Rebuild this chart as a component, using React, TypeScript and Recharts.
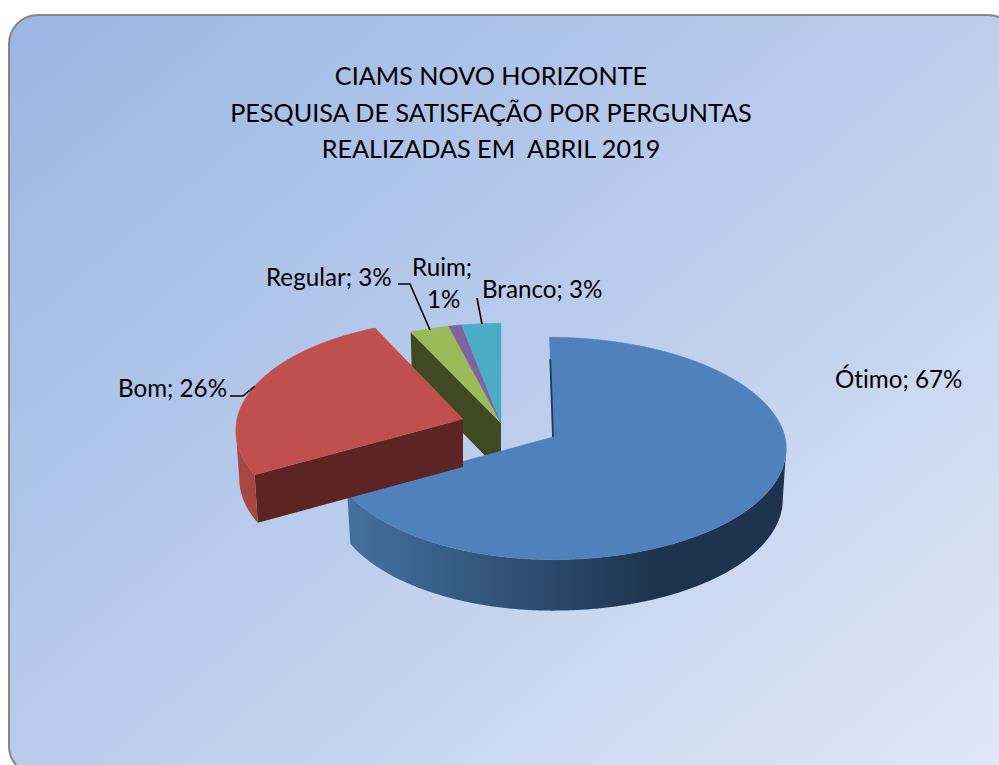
import React from "react";
import { PieChart, Pie, Cell } from "recharts";

const titleLines = ["CIAMS NOVO HORIZONTE", "PESQUISA DE SATISFAÇÃO POR PERGUNTAS", "REALIZADAS EM \u00A0ABRIL 2019"];
// Drawn in this order so that nearer slices cover farther ones; the pie starts at the "Regular" slice.
const categories = ["Regular", "Ruim", "Branco", "Ótimo", "Bom"];
const percents = [3, 1, 3, 67, 26];
const colors = ["#9BBB59", "#8064A2", "#4BACC6", "#4F81BD", "#C0504D"];
const rows = categories.map((name, i) => ({ name, value: percents[i] }));

const W = 999, H = 765;
const CX = 553, CY = 437, R = 232, TILT = 110 / 232, K = 0.103, NARROW = 0.985;
const START = 90 - (360 * (67 + 26)) / 100;

type Look = { dx: number; dy: number; left: number; depth: number; lean?: number; edge?: string; wall?: [string, string, string]; face?: string };
const looks: Record<string, Look> = {
  Regular: { dx: -52, dy: -14, left: 1, depth: 49, face: "#404A22" },
  Ruim: { dx: -52, dy: -14, left: 1, depth: 49 },
  Branco: { dx: -52, dy: -14, left: 1, depth: 49 },
  "Ótimo": { dx: 0, dy: 0, left: 0.962, depth: 51, lean: 3.5, edge: "#1F3A58", wall: ["#44719F", "#1E344E", "#1E344E"] },
  Bom: { dx: -90, dy: -18, left: 0.974, depth: 48, wall: ["#A84743", "#9E413E", "#8A3734"], face: "#5C2523" },
};
const labels: Record<string, { lines: string[]; x: number[]; y: number[]; lead?: number[][] }> = {
  "Ótimo": { lines: ["Ótimo; 67%"], x: [835], y: [388] },
  Bom: { lines: ["Bom; 26%"], x: [118], y: [397], lead: [[230, 396], [243, 396], [255, 386]] },
  Regular: { lines: ["Regular; 3%"], x: [266], y: [286], lead: [[398, 284], [410, 284], [430, 330]] },
  Ruim: { lines: ["Ruim;", "1%"], x: [412, 427], y: [276, 308] },
  Branco: { lines: ["Branco; 3%"], x: [482], y: [298], lead: [[477, 298], [482, 324]] },
};

const FONT = "Lato, 'Open Sans', sans-serif";
const NOLIG: React.CSSProperties = { fontVariantLigatures: "none" };

function project(cx: number, cy: number, r: number, theta: number, look: Look) {
  const a = (theta * Math.PI) / 180;
  const s = Math.sin(a), c = Math.cos(a);
  const f = 1 / (1 + K * c);
  return [cx + r * s * f * (s < 0 ? look.left : 1) - (look.lean ?? 0) * Math.max(c, 0), cy - r * TILT * c * f];
}
const poly = (pts: number[][]) => "M" + pts.map((p) => `${p[0].toFixed(2)} ${p[1].toFixed(2)}`).join("L") + "Z";

function Slice(props: any) {
  const { cx, cy, outerRadius, startAngle, endAngle, fill, name, payload } = props;
  const key = name ?? payload?.name;
  const look = looks[key];
  const ox = cx + look.dx, oy = cy + look.dy;
  const t0 = 90 - startAngle, t1 = 90 - endAngle;
  const arc: number[][] = [];
  const n = Math.max(6, Math.ceil(Math.abs(t1 - t0) * 2));
  for (let i = 0; i <= n; i++) arc.push(project(ox, oy, outerRadius, t0 + ((t1 - t0) * i) / n, look));
  const apex = [ox, oy];
  const down = (p: number[]) => [ox + (p[0] - ox) * NARROW, p[1] + look.depth];
  const id = `wall-${categories.indexOf(key)}`;
  const xs = arc.map((p) => p[0]);
  // Only the part of the rim that faces the viewer gets a wall: there x falls as the angle grows.
  const front = arc.filter((p, i) => (i > 0 && arc[i - 1][0] > p[0]) || (i < n && arc[i + 1][0] < p[0]));
  return (
    <g>
      {look.face && <path d={poly([apex, arc[0], down(arc[0]), down(apex)])} fill={look.face} />}
      {look.wall && (
        <>
          <defs>
            <linearGradient id={id} gradientUnits="userSpaceOnUse" x1={Math.min(...xs)} x2={Math.max(...xs)} y1={0} y2={0}>
              <stop offset="0" stopColor={look.wall[0]} />
              <stop offset="0.7" stopColor={look.wall[1]} />
              <stop offset="1" stopColor={look.wall[2]} />
            </linearGradient>
          </defs>
          <path d={poly([...front, ...front.map(down).reverse()])} fill={`url(#${id})`} />
        </>
      )}
      <path d={poly([apex, ...arc])} fill={fill} stroke={fill} strokeWidth={0.5} />
      {look.edge && (
        <line
          x1={apex[0]}
          y1={apex[1]}
          x2={apex[0] + (arc[0][0] - apex[0]) * 0.78}
          y2={apex[1] + (arc[0][1] - apex[1]) * 0.78}
          stroke={look.edge}
          strokeWidth={1.8}
        />
      )}
    </g>
  );
}

function SliceLabel(props: any) {
  const key = props.name ?? props.payload?.name;
  const l = labels[key];
  return (
    <g>
      {l.lead && <polyline points={l.lead.map((p) => p.join(",")).join(" ")} fill="none" stroke="#000" strokeWidth={1.6} />}
      {l.lines.map((t, i) => (
        <text key={t} x={l.x[i]} y={l.y[i]} fontFamily={FONT} fontSize={24.2} fill="#000" style={NOLIG}>{t}</text>
      ))}
    </g>
  );
}

export default function App() {
  return (
    <div style={{ position: "absolute", left: 0, top: 0, width: W, height: H, overflow: "hidden", background: "#fff" }}>
      <div
        style={{
          position: "absolute", left: 8, top: 14, width: 1010, height: 762, boxSizing: "border-box",
          border: "2.5px solid #868686", borderRadius: 30,
          background: "linear-gradient(140deg, #9BB6E3 0%, #BBCDEC 50%, #E0E8F6 100%)",
        }}
      />
      <div style={{ position: "absolute", left: 0, top: 0 }}>
        <PieChart width={W} height={H} margin={{ top: 0, right: 0, bottom: 0, left: 0 }}>
          <text x={491} y={85} textAnchor="middle" fontFamily={FONT} fontSize={25.2} fill="#000" style={NOLIG}>{titleLines[0]}</text>
          <text x={491} y={122} textAnchor="middle" fontFamily={FONT} fontSize={25.2} fill="#000" style={NOLIG}>{titleLines[1]}</text>
          <text x={491} y={158} textAnchor="middle" fontFamily={FONT} fontSize={25.2} fill="#000" style={NOLIG}>{titleLines[2]}</text>
          <Pie
            data={rows}
            dataKey="value"
            nameKey="name"
            cx={CX}
            cy={CY}
            outerRadius={R}
            startAngle={START}
            endAngle={START - 360}
            paddingAngle={0}
            stroke="none"
            isAnimationActive={false}
            shape={Slice}
            label={SliceLabel}
            labelLine={false}
            rootTabIndex={-1}
          >
            {rows.map((r, i) => (
              <Cell key={r.name} fill={colors[i]} />
            ))}
          </Pie>
        </PieChart>
      </div>
    </div>
  );
}
